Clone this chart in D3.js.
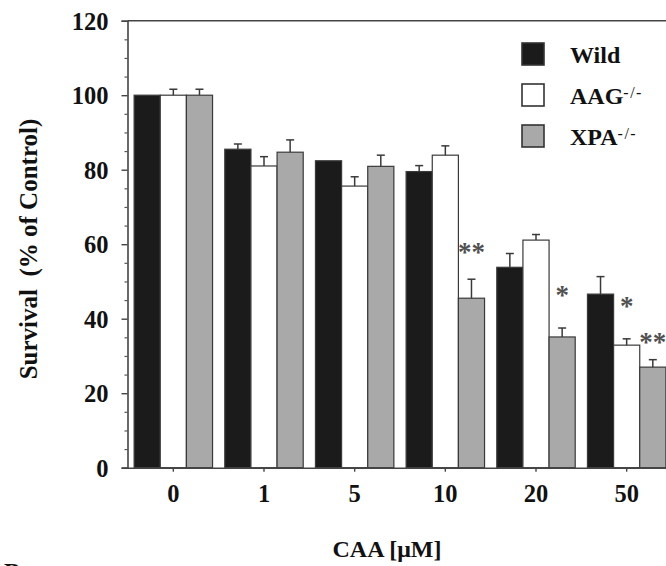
<!DOCTYPE html>
<html>
<head>
<meta charset="utf-8">
<script src="https://cdn.jsdelivr.net/npm/d3@7"></script>
<style>
  body { margin: 0; background: #fff; }
  svg { display: block; font-family: "Liberation Serif", "Times New Roman", serif; }
</style>
</head>
<body>
<div id="chart"></div>
<script>
// values
var doses = ["0", "1", "5", "10", "20", "50"]
var seriesNames = ["Wild", "AAG", "XPA"]
var wild = [100, 85.5, 82.4, 79.5, 53.8, 46.6]
var wildErr = [0, 1.4, 0, 1.6, 3.7, 4.7]
var aag = [100, 81.0, 75.6, 83.9, 61.1, 32.9]
var aagErr = [1.6, 2.5, 2.5, 2.5, 1.5, 1.7]
var xpa = [100, 84.7, 80.9, 45.5, 35.1, 27.0]
var xpaErr = [1.6, 3.3, 3.0, 5.1, 2.4, 2.0]
var yTicks = [0, 20, 40, 60, 80, 100, 120]
// significance marks: [dose, series, label, level]
var stars = [
    ["10", "XPA", "**", 59.0],
    ["20", "XPA", "*", 47.4],
    ["50", "AAG", "*", 44.6],
    ["50", "XPA", "**", 34.7]
]

var fills = { Wild: "#1b1b1b", AAG: "#ffffff", XPA: "#a9a9a9" }
var legendSup = { Wild: "", AAG: "-/-", XPA: "-/-" }

var W = 666, H = 566
var svg = d3.select("#chart").append("svg")
    .attr("width", W)
    .attr("height", H)

var y = d3.scaleLinear().domain([0, 120]).range([467.7, 20.7])
var x = d3.scaleBand().domain(doses).range([128, 672])
    .paddingInner(0.135).paddingOuter(0.0675)
var xs = d3.scaleBand().domain(seriesNames).range([0, x.bandwidth()])

var rows = []
doses.forEach((d, i) => {
    rows.push({ dose: d, s: "Wild", v: wild[i], e: wildErr[i] })
    rows.push({ dose: d, s: "AAG", v: aag[i], e: aagErr[i] })
    rows.push({ dose: d, s: "XPA", v: xpa[i], e: xpaErr[i] })
})

// bars
svg.append("g")
    .selectAll("rect")
    .data(rows)
    .join("rect")
    .attr("x", d => x(d.dose) + xs(d.s))
    .attr("y", d => y(d.v))
    .attr("width", xs.bandwidth())
    .attr("height", d => y(0) - y(d.v))
    .attr("fill", d => fills[d.s])
    .attr("stroke", "#3a3a3a")
    .attr("stroke-width", 1.2)

// error bars (upper only)
var eb = svg.append("g")
    .attr("stroke", "#3a3a3a")
    .attr("stroke-width", 1.5)
    .selectAll("g")
    .data(rows.filter(d => d.e > 0))
    .join("g")
    .attr("transform", d => `translate(${x(d.dose) + xs(d.s) + xs.bandwidth() / 2},0)`)
eb.append("line")
    .attr("y1", d => y(d.v))
    .attr("y2", d => y(d.v + d.e))
eb.append("line")
    .attr("x1", -4).attr("x2", 4)
    .attr("y1", d => y(d.v + d.e))
    .attr("y2", d => y(d.v + d.e))

// stars
svg.append("g")
    .attr("fill", "#505050")
    .attr("font-size", 27)
    .attr("font-weight", "bold")
    .attr("text-anchor", "middle")
    .selectAll("text")
    .data(stars)
    .join("text")
    .attr("x", d => x(d[0]) + xs(d[1]) + xs.bandwidth() / 2)
    .attr("y", d => y(d[3]) + 13)
    .text(d => d[2])

// frame top
svg.append("line")
    .attr("x1", 127.5).attr("x2", W)
    .attr("y1", y(120)).attr("y2", y(120))
    .attr("stroke", "#444").attr("stroke-width", 1.6)

// y axis
var yAxis = svg.append("g")
    .attr("transform", "translate(127.5,0)")
    .call(d3.axisLeft(y).tickValues(yTicks).tickSize(6).tickPadding(13))
yAxis.select(".domain").attr("stroke", "#444").attr("stroke-width", 1.6)
yAxis.selectAll(".tick line").attr("stroke", "#444").attr("stroke-width", 1.4)
yAxis.selectAll("text")
    .attr("font-family", "Liberation Serif")
    .attr("font-weight", "bold")
    .attr("font-size", 24.5)
    .attr("fill", "#111")
    .attr("dy", "0.34em")
svg.append("g")
    .attr("transform", "translate(127.5,0)")
    .call(d3.axisLeft(y).tickValues(d3.range(5, 120, 5).filter(v => v % 20 !== 0)).tickSize(3).tickFormat(""))
    .call(g => g.select(".domain").remove())
    .selectAll("line").attr("stroke", "#555").attr("stroke-width", 1.2)

// x axis
var xAxis = svg.append("g")
    .attr("transform", `translate(0,${y(0)})`)
    .call(d3.axisBottom(x).tickSize(4).tickPadding(13))
xAxis.select(".domain").attr("d", `M122,0.5H${W}`).attr("stroke", "#444").attr("stroke-width", 1.6)
xAxis.selectAll(".tick line").attr("stroke", "#444").attr("stroke-width", 1.4)
xAxis.selectAll("text")
    .attr("font-family", "Liberation Serif")
    .attr("font-weight", "bold")
    .attr("font-size", 24.5)
    .attr("fill", "#111")

// axis titles
svg.append("text")
    .attr("transform", "translate(37,249) rotate(-90)")
    .attr("text-anchor", "middle")
    .attr("font-weight", "bold")
    .attr("font-size", 25)
    .attr("fill", "#111")
    .text("Survival\u00a0\u00a0(% of Control)")

svg.append("text")
    .attr("x", 387).attr("y", 556.5)
    .attr("text-anchor", "middle")
    .attr("font-weight", "bold")
    .attr("font-size", 24)
    .attr("fill", "#111")
    .text("CAA [\u03bcM]")

// next panel letter, cut off at the bottom like in the source figure
svg.append("text")
    .attr("x", 4).attr("y", 579)
    .attr("font-weight", "bold")
    .attr("font-size", 24)
    .attr("fill", "#111")
    .text("B")

// legend
var lg = svg.append("g")
    .selectAll("g")
    .data(seriesNames)
    .join("g")
    .attr("transform", (d, i) => `translate(522,${43 + i * 41})`)
lg.append("rect")
    .attr("width", 22).attr("height", 22)
    .attr("fill", d => fills[d])
    .attr("stroke", "#333")
    .attr("stroke-width", 1.6)
var lt = lg.append("text")
    .attr("x", 48).attr("y", 20)
    .attr("font-weight", "bold")
    .attr("font-size", 24)
    .attr("fill", "#111")
lt.append("tspan").text(d => d)
lt.append("tspan")
    .attr("dy", -6)
    .attr("font-size", 16)
    .attr("font-weight", "normal")
    .attr("letter-spacing", 1.5)
    .text(d => legendSup[d])
</script>
</body>
</html>
